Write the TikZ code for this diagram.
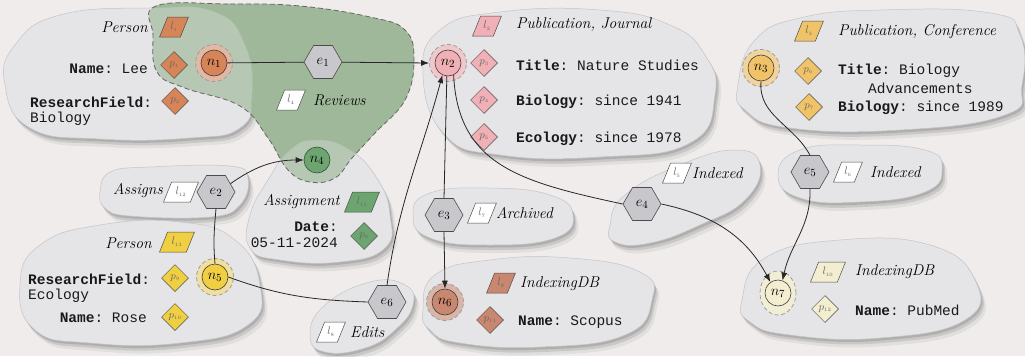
\documentclass[tikz,border=0pt]{standalone}
\usepackage{fontspec}
\setmonofont{Liberation Mono}
\newfontfamily\labfont{Latin Modern Roman}
\usetikzlibrary{shapes.geometric,arrows.meta}

\definecolor{bgc}{RGB}{240,236,236}
\definecolor{blobc}{RGB}{229,229,231}
\definecolor{blobline}{RGB}{196,196,200}
\definecolor{greenreg}{RGB}{158,184,153}
\definecolor{cOr}{RGB}{214,132,88}
\definecolor{cPk}{RGB}{240,176,181}
\definecolor{cYo}{RGB}{241,195,104}
\definecolor{cGr}{RGB}{108,165,112}
\definecolor{cYe}{RGB}{240,208,66}
\definecolor{cBr}{RGB}{200,135,110}
\definecolor{cCr}{RGB}{243,238,208}
\definecolor{hexc}{RGB}{200,200,204}

\tikzset{
  % blob outlines (group hulls)
  bA/.style={insert path={plot[smooth cycle,tension=.8] coordinates {(5,85) (15,45) (60,15) (150,8) (215,12) (245,45) (252,95) (240,128) (190,138) (100,139) (30,128)}}},
  bB/.style={insert path={plot[smooth cycle,tension=.8] coordinates {(423,75) (440,30) (500,12) (600,10) (670,25) (705,55) (715,95) (690,143) (600,157) (500,155) (445,135)}}},
  bC/.style={insert path={plot[smooth cycle,tension=.8] coordinates {(738,85) (755,40) (800,18) (880,10) (990,13) (1020,35) (1022,85) (1005,115) (900,130) (790,128) (745,110)}}},
  bD/.style={insert path={plot[smooth cycle,tension=.7] coordinates {(100,192) (110,172) (150,167) (230,166) (248,178) (240,205) (210,217) (130,216) (105,208)}}},
  bE/.style={insert path={plot[smooth cycle,tension=.8] coordinates {(316,140) (350,150) (378,180) (390,215) (385,248) (340,262) (280,260) (250,248) (250,215) (268,180) (290,150)}}},
  bF/.style={insert path={plot[smooth cycle,tension=.8] coordinates {(20,285) (40,245) (100,225) (180,222) (235,240) (260,285) (248,325) (180,343) (90,343) (35,330)}}},
  bG/.style={insert path={plot[smooth cycle,tension=.8] coordinates {(310,335) (325,305) (370,282) (405,285) (413,305) (395,330) (365,348) (325,352)}}},
  bH/.style={insert path={plot[smooth cycle,tension=.8] coordinates {(413,215) (430,193) (490,188) (550,195) (573,215) (555,238) (490,245) (430,238)}}},
  bI/.style={insert path={plot[smooth cycle,tension=.8] coordinates {(423,310) (435,275) (490,260) (570,258) (640,272) (652,300) (625,335) (540,347) (460,343) (430,330)}}},
  bJ/.style={insert path={plot[smooth cycle,tension=.8] coordinates {(610,225) (625,195) (680,165) (735,150) (760,165) (745,200) (700,225) (650,243) (615,242)}}},
  bK/.style={insert path={plot[smooth cycle,tension=.8] coordinates {(778,175) (800,150) (860,145) (925,150) (942,168) (925,192) (860,202) (800,198)}}},
  bL/.style={insert path={plot[smooth cycle,tension=.8] coordinates {(742,300) (765,258) (840,240) (930,245) (975,280) (965,320) (880,338) (790,335) (750,322)}}},
  greg/.style={insert path={plot[smooth cycle,tension=.7] coordinates {(156,6) (230,4) (300,6) (370,17) (405,30) (414,60) (405,100) (375,133) (352,158) (335,178) (310,182) (288,170) (268,138) (240,106) (185,88) (157,72) (153,35)}}},
  % node looks
  nd/.style={circle, draw=black!75, line width=.6pt, minimum size=26pt, inner sep=0pt, font=\fontsize{15}{15}\selectfont},
  halo/.style={circle, draw=gray!75, dash pattern=on 4pt off 2.5pt, line width=.8pt, minimum size=37pt, inner sep=0pt},
  pd/.style={diamond, draw=black!70, line width=.5pt, minimum size=27pt, inner sep=0pt, text=black!60, font=\fontsize{11}{11}\selectfont},
  lb/.style={trapezium, trapezium left angle=68, trapezium right angle=112, draw=black!70, line width=.5pt, minimum height=20pt, minimum width=12pt, inner xsep=0pt, inner ysep=1pt, text=black!60, font=\fontsize{11}{11}\selectfont},
  hx/.style={regular polygon, regular polygon sides=6, draw=black!70, fill=hexc, line width=.6pt, minimum size=38pt, inner sep=0pt, font=\fontsize{15}{15}\selectfont},
  it/.style={font=\fontsize{15.6}{18}\selectfont\labfont\itshape, inner sep=0pt, text=black},
  kv/.style={font=\fontsize{14.5}{16}\selectfont\ttfamily, inner sep=0pt, text=black!90},
  con/.style={line width=.8pt, draw=black!85},
  arr/.style={-{Latex[length=8pt,width=6pt]}},
}
\newcommand\blobshadow[1]{%
  \fill[black,opacity=.06,shift={(5,8)},#1];
  \fill[black,opacity=.10,shift={(3,5)},#1];
  \fill[black,opacity=.12,shift={(1.5,2.5)},#1];}
\newcommand\blobbody[1]{\filldraw[fill=blobc,draw=blobline,line width=.5pt,#1];}

\begin{document}
\begin{tikzpicture}[x=1pt,y=-1pt]
\useasboundingbox (0,0) rectangle (1025,356);
\fill[bgc] (0,0) rectangle (1025,356);

% soft shadows
\blobshadow{bA}\blobshadow{bB}\blobshadow{bC}\blobshadow{bD}
\blobshadow{bE}\blobshadow{bF}\blobshadow{bG}\blobshadow{bH}
\blobshadow{bI}\blobshadow{bJ}\blobshadow{bK}\blobshadow{bL}

% hyperedge region, under the hulls
\fill[greenreg, greg];

% hulls
\blobbody{bA}\blobbody{bB}\blobbody{bC}\blobbody{bD}
\blobbody{bE}\blobbody{bF}\blobbody{bG}\blobbody{bH}
\blobbody{bI}\blobbody{bJ}\blobbody{bK}\blobbody{bL}

% hyperedge region, tinted over the hulls, with its dashed border
\fill[greenreg, opacity=.65, greg];
\draw[gray!80!black, line width=.8pt, dash pattern=on 5pt off 3pt, greg];

% ---- Person (n1)
\node[it, anchor=east] (tPersA) at (148,27) {Person};
\node[lb, fill=cOr] (l1) at (174,27) {$l_{\scriptscriptstyle 1}$};
\node[kv, anchor=east] (kNameA) at (148,69) {\textbf{Name}: Lee};
\node[pd, fill=cOr] (p1) at (174,65) {$p_{\scriptscriptstyle 1}$};
\node[kv, anchor=west] (kRFA) at (30,102) {\textbf{ResearchField}:};
\node[kv, anchor=west] (kBioA) at (30,119) {Biology};
\node[pd, fill=cOr] (p2) at (175,101) {$p_{\scriptscriptstyle 2}$};
\node[halo, fill=cOr!50!bgc] (h1) at (214,63) {};
\node[nd, fill=cOr] (n1) at (214,63) {$n_{1}$};

% ---- Reviews (e1)
\node[hx] (e1) at (323,62) {$e_{1}$};
\node[lb, fill=white] (l4) at (291,100) {$l_{\scriptscriptstyle 4}$};
\node[it, anchor=west] (tRev) at (313,100) {Reviews};

% ---- Publication, Journal (n2)
\node[halo, fill=cPk!60!bgc] (h2) at (448,63) {};
\node[nd, fill=cPk] (n2) at (448,63) {$n_{2}$};
\node[lb, fill=cPk] (l2) at (487,26) {$l_{\scriptscriptstyle 2}$};
\node[it, anchor=west] (tJour) at (516,25) {Publication, Journal};
\node[pd, fill=cPk] (p3) at (484,63) {$p_{\scriptscriptstyle 3}$};
\node[kv, anchor=west] (kTitJ) at (516,65) {\textbf{Title}: Nature Studies};
\node[pd, fill=cPk] (p4) at (484,100) {$p_{\scriptscriptstyle 4}$};
\node[kv, anchor=west] (kBioJ) at (516,102) {\textbf{Biology}: since 1941};
\node[pd, fill=cPk] (p5) at (484,137) {$p_{\scriptscriptstyle 5}$};
\node[kv, anchor=west] (kEcoJ) at (516,139) {\textbf{Ecology}: since 1978};

% ---- Publication, Conference (n3)
\node[halo, fill=cYo!60!bgc] (h3) at (761,68) {};
\node[nd, fill=cYo] (n3) at (761,68) {$n_{3}$};
\node[lb, fill=cYo] (l3) at (809,31) {$l_{\scriptscriptstyle 3}$};
\node[it, anchor=west] (tConf) at (838,32) {Publication, Conference};
\node[pd, fill=cYo] (p6) at (808,71) {$p_{\scriptscriptstyle 6}$};
\node[kv, anchor=west] (kTitC) at (838,71) {\textbf{Title}: Biology};
\node[kv, anchor=west] (kTitC2) at (868,88) {Advancements};
\node[pd, fill=cYo] (p7) at (809,107) {$p_{\scriptscriptstyle 7}$};
\node[kv, anchor=west] (kBioC) at (838,108) {\textbf{Biology}: since 1989};

% ---- Assignment (n4)
\node[nd, fill=cGr, draw=cGr!50!black] (n4) at (317,160) {$n_{4}$};
\node[it, anchor=east] (tAssg) at (340,202) {Assignment};
\node[lb, fill=cGr] (l11) at (362,202) {$l_{\scriptscriptstyle 11}$};
\node[kv, anchor=east] (kDate) at (338,227) {\textbf{Date}:};
\node[kv, anchor=east] (kDateV) at (338,243) {05-11-2024};
\node[pd, fill=cGr] (p8) at (364,236) {$p_{\scriptscriptstyle 8}$};

% ---- Assigns (e2)
\node[hx] (e2) at (216,192) {$e_{2}$};
\node[lb, fill=white] (l12) at (181,192) {$l_{\scriptscriptstyle 12}$};
\node[it, anchor=east] (tAssigns) at (163,191) {Assigns};

% ---- Person (n5)
\node[it, anchor=east] (tPersB) at (152,243) {Person};
\node[lb, fill=cYe] (l13) at (177,242) {$l_{\scriptscriptstyle 13}$};
\node[kv, anchor=west] (kRFB) at (28,279) {\textbf{ResearchField}:};
\node[kv, anchor=west] (kEcoB) at (28,296) {Ecology};
\node[pd, fill=cYe] (p9) at (175,278) {$p_{\scriptscriptstyle 9}$};
\node[kv, anchor=east] (kNameB) at (147,318) {\textbf{Name}: Rose};
\node[pd, fill=cYe] (p10) at (175,317) {$p_{\scriptscriptstyle 10}$};
\node[halo, fill=cYe!45!bgc] (h5) at (215,277) {};
\node[nd, fill=cYe] (n5) at (215,277) {$n_{5}$};

% ---- Edits (e6)
\node[hx] (e6) at (387,302) {$e_{6}$};
\node[lb, fill=white] (l8) at (331,332) {$l_{\scriptscriptstyle 8}$};
\node[it, anchor=west] (tEdits) at (350,332) {Edits};

% ---- Archived (e3)
\node[hx] (e3) at (444,215) {$e_{3}$};
\node[lb, fill=white] (l7) at (482,213) {$l_{\scriptscriptstyle 7}$};
\node[it, anchor=west] (tArch) at (496,213) {Archived};

% ---- IndexingDB (n6)
\node[halo, fill=cBr!55!bgc] (h6) at (445,302) {};
\node[nd, fill=cBr] (n6) at (445,302) {$n_{6}$};
\node[lb, fill=cBr] (l9) at (501,283) {$l_{\scriptscriptstyle 9}$};
\node[it, anchor=west] (tIdxA) at (520,284) {IndexingDB};
\node[pd, fill=cBr] (p11) at (490,320) {$p_{\scriptscriptstyle 11}$};
\node[kv, anchor=west] (kScop) at (518,322) {\textbf{Name}: Scopus};

% ---- Indexed (e4)
\node[hx] (e4) at (642,204) {$e_{4}$};
\node[lb, fill=white] (l5) at (677,173) {$l_{\scriptscriptstyle 5}$};
\node[it, anchor=west] (tIdx4) at (692,173) {Indexed};

% ---- Indexed (e5)
\node[hx] (e5) at (810,172) {$e_{5}$};
\node[lb, fill=white] (l6) at (848,172) {$l_{\scriptscriptstyle 6}$};
\node[it, anchor=west] (tIdx5) at (870,172) {Indexed};

% ---- IndexingDB (n7)
\node[ellipse, draw=gray!75, dash pattern=on 4pt off 2.5pt, line width=.8pt, minimum width=36pt, minimum height=44pt, inner sep=0pt, fill=cCr!80!bgc] (h7) at (778,293) {};
\node[nd, fill=cCr] (n7) at (778,293) {$n_{7}$};
\node[lb, fill=cCr] (l10) at (828,272) {$l_{\scriptscriptstyle 10}$};
\node[it, anchor=west] (tIdxB) at (855,272) {IndexingDB};
\node[pd, fill=cCr] (p12) at (825,309) {$p_{\scriptscriptstyle 12}$};
\node[kv, anchor=west] (kPub) at (855,310) {\textbf{Name}: PubMed};

% ---- connectors
\draw[con] (n1) -- (e1);
\draw[con,arr] (e1) -- (h2.west);
\draw[con,arr] (e2.30) to[out=35,in=180] (n4.west);
\draw[con] (e2.south) to[out=-95,in=95] (n5.north);
\draw[con] (n5.east) to[out=-20,in=178] (e6.west);
\draw[con,arr] (e6.north) to[out=82,in=-105] (n2.245);
\draw[con] (n2.265) -- (e3.north);
\draw[con,arr] (e3.south) -- (n6.north);
\draw[con] (n2.-65) .. controls (458,165) and (520,182) .. (e4.west);
\draw[con,arr] (e4.east) to[out=-12,in=118] (n7.125);
\draw[con] (n3.south) to[out=-95,in=118] (e5.north);
\draw[con,arr] (e5.south) to[out=-88,in=78] (n7.70);
\end{tikzpicture}
\end{document}
